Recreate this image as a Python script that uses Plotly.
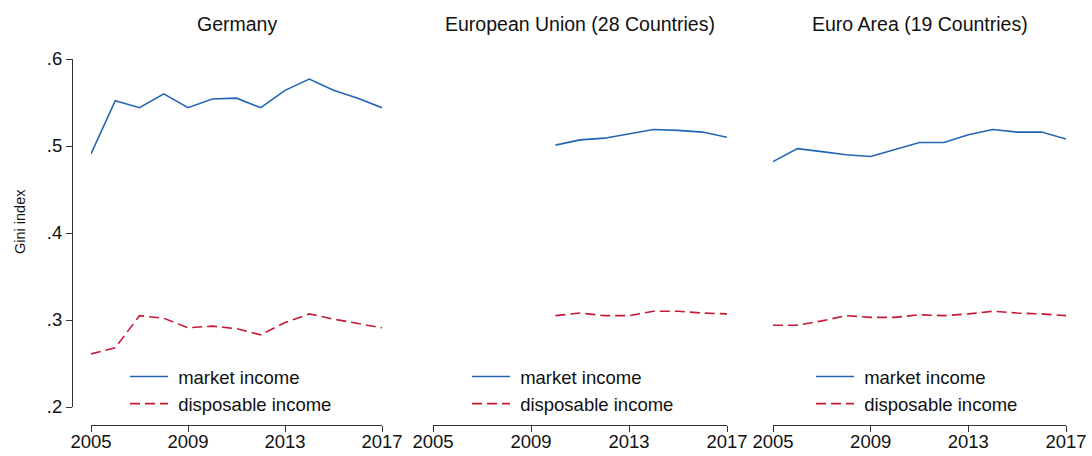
import plotly.graph_objects as go

# Gini index by year, market vs. disposable household income
years_de = list(range(2005, 2018))
market_de = [0.491, 0.552, 0.544, 0.560, 0.544, 0.554, 0.555, 0.544, 0.564, 0.577, 0.564, 0.555, 0.544]
dispos_de = [0.261, 0.268, 0.305, 0.302, 0.291, 0.293, 0.290, 0.283, 0.297, 0.307, 0.301, 0.296, 0.291]

years_eu = list(range(2010, 2018))
market_eu = [0.501, 0.507, 0.509, 0.514, 0.519, 0.518, 0.516, 0.510]
dispos_eu = [0.305, 0.308, 0.305, 0.305, 0.310, 0.310, 0.308, 0.307]

years_ea = list(range(2005, 2018))
market_ea = [0.482, 0.497, 0.4935, 0.490, 0.488, 0.496, 0.504, 0.504, 0.513, 0.519, 0.516, 0.516, 0.508]
dispos_ea = [0.294, 0.294, 0.299, 0.305, 0.303, 0.303, 0.306, 0.305, 0.307, 0.310, 0.308, 0.307, 0.305]

panel_titles = ["Germany", "European Union (28 Countries)", "Euro Area (19 Countries)"]
x_ticks = [2005, 2009, 2013, 2017]
y_ticks = [0.2, 0.3, 0.4, 0.5, 0.6]
y_tick_text = [".2", ".3", ".4", ".5", ".6"]
series_names = ["\u00a0market income", "\u00a0disposable income"]

W, H = 1092, 456
FONT = "Liberation Sans, Arial, Helvetica, sans-serif"
BLUE = "#2166b4"
RED = "#c41a34"


def px_x(p):
    return p / W


def px_y(p):
    return 1 - p / H


# panel x-extents in pixels (left, right)
panels_px = [(91, 382), (433, 727), (773, 1066)]
legend_left_px = [125, 467, 811]

fig = go.Figure()
data = [
    (years_de, market_de, dispos_de),
    (years_eu, market_eu, dispos_eu),
    (years_ea, market_ea, dispos_ea),
]

for i, (yrs, mk, dp) in enumerate(data):
    xa = "x" if i == 0 else f"x{i + 1}"
    lg = "legend" if i == 0 else f"legend{i + 1}"
    fig.add_trace(go.Scatter(
        x=yrs, y=mk, mode="lines", name=series_names[0],
        line=dict(color=BLUE, width=1.6),
        xaxis=xa, yaxis="y", legend=lg,
    ))
    fig.add_trace(go.Scatter(
        x=yrs, y=dp, mode="lines", name=series_names[1],
        line=dict(color=RED, width=1.6, dash="10px,5px"),
        xaxis=xa, yaxis="y", legend=lg,
    ))

axis_common = dict(
    showgrid=False, zeroline=False, showline=True, linecolor="#333333", linewidth=1,
    ticks="outside", ticklen=6, tickwidth=1, tickcolor="#333333", automargin=False,
    tickfont=dict(family=FONT, size=18.5, color="#111111"),
)

layout = dict(
    width=W, height=H,
    margin=dict(l=0, r=0, t=0, b=0, pad=0, autoexpand=False),
    paper_bgcolor="white", plot_bgcolor="white",
    font=dict(family=FONT, color="#111111"),
    showlegend=True,
    yaxis=dict(
        range=[0.2, 0.6], domain=[px_y(407), px_y(59)],
        anchor="free", position=px_x(72),
        tickvals=y_ticks, ticktext=y_tick_text, fixedrange=True,
        **axis_common,
    ),
)

for i, (l, r) in enumerate(panels_px):
    key = "xaxis" if i == 0 else f"xaxis{i + 1}"
    layout[key] = dict(
        range=[2005, 2017], domain=[px_x(l), px_x(r)],
        anchor="free", position=px_y(425), ticklabelstandoff=-6,
        tickvals=x_ticks, **axis_common,
    )
    lkey = "legend" if i == 0 else f"legend{i + 1}"
    layout[lkey] = dict(
        x=px_x(legend_left_px[i]), y=px_y(358), xanchor="left", yanchor="top",
        bgcolor="rgba(0,0,0,0)", borderwidth=0,
        font=dict(family=FONT, size=18.5, color="#111111"),
        itemwidth=38,
    )

annotations = []
for i, (l, r) in enumerate(panels_px):
    annotations.append(dict(
        text=panel_titles[i], x=px_x((l + r) / 2), y=px_y(24),
        xref="paper", yref="paper", xanchor="center", yanchor="middle",
        showarrow=False, font=dict(family=FONT, size=19.5, color="#111111"),
    ))
annotations.append(dict(
    text="Gini index", x=px_x(20), y=px_y(222), textangle=-90,
    xref="paper", yref="paper", xanchor="center", yanchor="middle",
    showarrow=False, font=dict(family=FONT, size=14.5, color="#111111"),
))
layout["annotations"] = annotations

fig.update_layout(**layout)
fig.write_html("out.html")
